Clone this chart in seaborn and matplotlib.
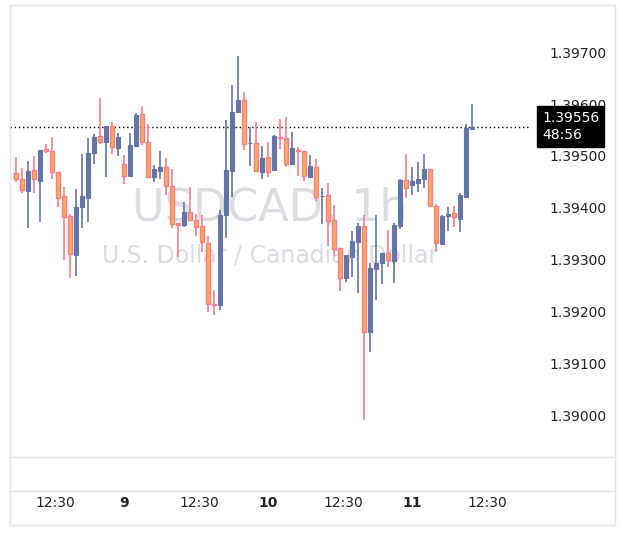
import matplotlib
matplotlib.use('Agg')
import matplotlib.pyplot as plt
from matplotlib.lines import Line2D
import seaborn as sns
import numpy as np

# hourly USDCAD candles, prices given as 1.39 + value / 100000
hours = list(range(6, 83))  # hours since the 8th 00:00
opens = [466, 456, 433, 472, 452, 514, 510, 469, 422, 384, 309, 402, 419, 506, 538, 527, 557, 516, 485, 462,
         519, 580, 526, 460, 471, 478, 442, 370, 367, 391, 377, 364, 331, 214, 212, 386, 471, 584, 608, 524,
         524, 469, 498, 472, 536, 534, 484, 512, 509, 460, 478, 422, 424, 376, 322, 265, 305, 334, 365, 160,
         282, 293, 312, 298, 365, 453, 444, 448, 455, 474, 404, 330, 384, 389, 379, 421, 551]
highs = [498, 476, 490, 499, 512, 523, 536, 469, 439, 388, 436, 503, 534, 542, 611, 557, 565, 544, 501, 544,
         583, 596, 561, 482, 509, 495, 474, 370, 410, 440, 388, 386, 346, 241, 395, 569, 636, 692, 623, 555,
         566, 519, 526, 540, 571, 575, 546, 517, 510, 501, 494, 437, 447, 405, 322, 309, 355, 370, 385, 293,
         386, 312, 357, 371, 455, 503, 478, 489, 503, 474, 408, 386, 401, 403, 429, 562, 600]
lows = [450, 428, 361, 428, 373, 506, 455, 402, 300, 264, 269, 360, 373, 485, 523, 460, 503, 499, 445, 462,
        519, 521, 460, 449, 455, 424, 361, 305, 363, 375, 346, 315, 198, 193, 203, 341, 420, 584, 511, 480,
        469, 455, 460, 471, 513, 479, 482, 461, 452, 458, 413, 369, 326, 307, 239, 257, 266, 235, -10, 122,
        222, 252, 285, 255, 358, 418, 425, 430, 438, 402, 314, 328, 355, 363, 354, 421, 551]
closes = [456, 434, 471, 455, 512, 510, 468, 419, 382, 311, 401, 422, 506, 536, 527, 557, 517, 536, 462, 521,
          579, 526, 460, 474, 478, 442, 369, 366, 391, 377, 363, 333, 215, 213, 386, 472, 584, 608, 522, 524,
          471, 496, 469, 538, 535, 485, 515, 509, 462, 480, 421, 422, 374, 321, 265, 309, 336, 365, 160, 283,
          293, 312, 300, 366, 453, 437, 451, 455, 474, 404, 331, 384, 387, 382, 424, 553, 556]

price_ticks = [1.390, 1.391, 1.392, 1.393, 1.394, 1.395, 1.396, 1.397]
time_ticks = [12.5, 24, 36.5, 48, 60.5, 72, 84.5]
time_labels = ['12:30', '9', '12:30', '10', '12:30', '11', '12:30']
last_price = 1.39556

base = 1.39
o = base + np.array(opens) / 1e5
h = base + np.array(highs) / 1e5
l = base + np.array(lows) / 1e5
c = base + np.array(closes) / 1e5
x = np.array(hours)

up_col = '#6475a8'
down_fill = '#ffaa60'
down_edge = '#f77e86'

sns.set_style('white')
fig = plt.figure(figsize=(6.23, 5.44), dpi=100)
ax = fig.add_axes([10 / 623, 87 / 544, 520 / 623, 452 / 544])

up = c >= o
ax.vlines(x[up], l[up], h[up], color=up_col, lw=1.2, zorder=3)
ax.vlines(x[~up], l[~up], h[~up], color=down_edge, lw=1.2, zorder=3)
body_lo = np.minimum(o, c)
body_h = np.maximum(np.abs(c - o), 0.000012)
ax.bar(x[up], body_h[up], bottom=body_lo[up], width=0.62, color=up_col, edgecolor=up_col, lw=0.8, zorder=4)
ax.bar(x[~up], body_h[~up], bottom=body_lo[~up], width=0.62, color=down_fill, edgecolor=down_edge, lw=1.0, zorder=4)

ax.axhline(last_price, color='black', ls=(0, (1, 2)), lw=1, zorder=2)

ax.text(0.5, 0.55, 'USDCAD, 1h', transform=ax.transAxes, ha='center', va='center',
        fontsize=32, color='#dcdde3', zorder=1)
ax.text(0.5, 0.445, 'U.S. Dollar / Canadian Dollar', transform=ax.transAxes, ha='center', va='center',
        fontsize=17, color='#dcdde3', zorder=1)

ax.set_xlim(5, 91.7)
ax.set_ylim(1.38919, 1.39791)
ax.yaxis.tick_right()
ax.set_yticks(price_ticks)
ax.set_yticklabels([f'{p:.5f}' for p in price_ticks])
ax.set_xticks(time_ticks)
ax.set_xticklabels(time_labels)
for lab in ax.get_xticklabels():
    if ':' not in lab.get_text():
        lab.set_fontweight('bold')
ax.tick_params(axis='y', length=0, pad=14, labelsize=10, labelcolor='#222222')
ax.tick_params(axis='x', length=0, pad=44 - 16, labelsize=10, labelcolor='#222222')
for s in ax.spines.values():
    s.set_visible(False)

ax.text(1.0 + 12 / 520, last_price, '1.39556\n48:56', transform=ax.get_yaxis_transform(),
        ha='left', va='center', fontsize=10, color='white', linespacing=1.3,
        bbox=dict(boxstyle='square,pad=0.35', fc='black', ec='black'), zorder=10)

# panel borders
W, H = 623, 544
def hline(y, x0=10, x1=615):
    fig.add_artist(Line2D([x0 / W, x1 / W], [1 - y / H, 1 - y / H], color='#e4e4e4', lw=1))
def vline(xp, y0=5, y1=525):
    fig.add_artist(Line2D([xp / W, xp / W], [1 - y0 / H, 1 - y1 / H], color='#e4e4e4', lw=1))
for yy in [5, 457, 491, 525]:
    hline(yy)
vline(10)
vline(615)

fig.savefig('out.png', dpi=100)
